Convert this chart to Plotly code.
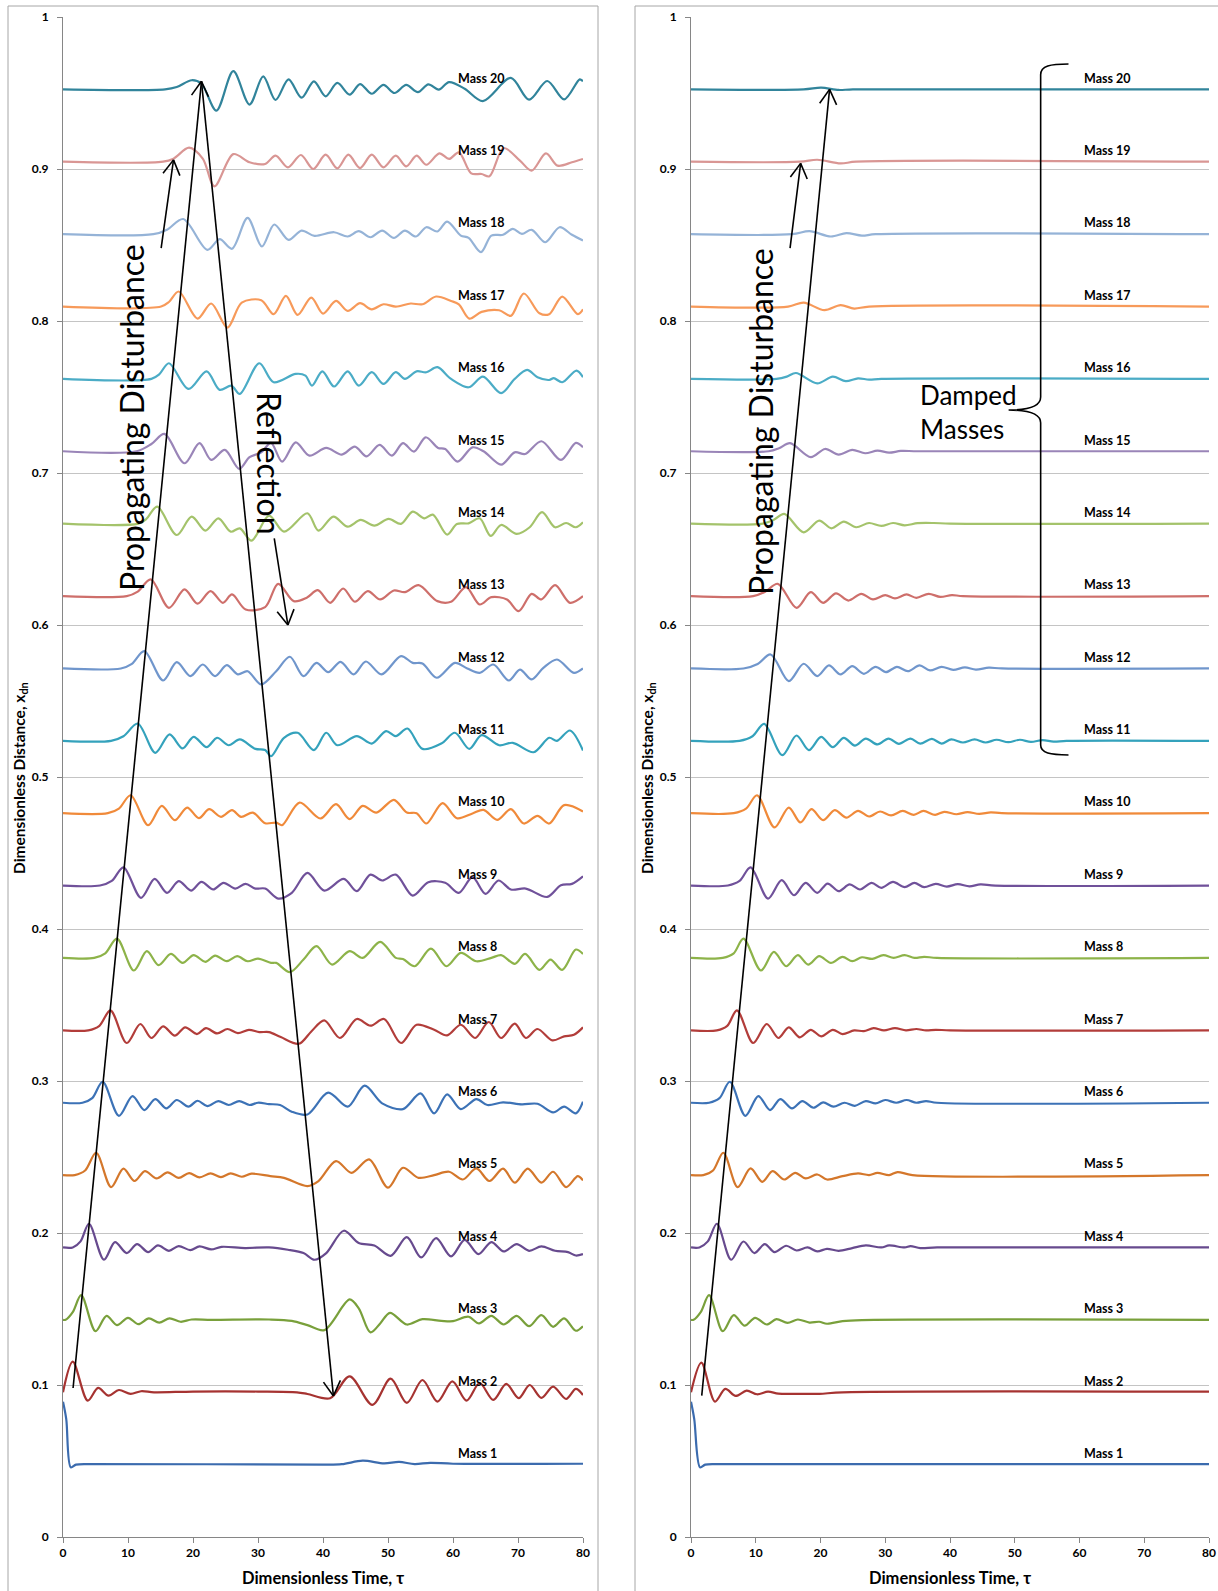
import math
import plotly.graph_objects as go

# ---------------- DATA ----------------
# equilibrium positions of the 20 masses (dimensionless)
equilibrium = [0.0476, 0.0952, 0.1429, 0.1905, 0.2381, 0.2857, 0.3333, 0.3810, 0.4286, 0.4762,
               0.5238, 0.5714, 0.6190, 0.6667, 0.7143, 0.7619, 0.8095, 0.8571, 0.9048, 0.9524]
mass_labels = ["Mass %d" % i for i in range(1, 21)]
colors = ["#3B6BAE", "#A63331", "#79A03B", "#674A8E", "#D4772B", "#3C72B6", "#B23D3A", "#8DB349",
          "#70519A", "#F08A3A", "#34A2BC", "#7096CC", "#CE6F6B", "#A4C36B", "#9A85B8", "#4BACC6",
          "#F79A5A", "#95B3D7", "#D99694", "#31849B"]

# Undamped chain: (time, deviation from equilibrium in thousandths) pairs
free_m1 = [0, 41.4, 0.5, 30, 1.2, -1.8, 2, 0, 4, 0.4, 40, 0, 42.9, 0.3, 46.1, 2.6, 49.4, 0.9, 51.7, 1.8, 54.1, 0.4, 56.5, 1.2, 60, 0.6, 80, 0.6]
free_m2 = [0, 0, 1.5, 20.2, 3.8, -5.5, 5.4, 2.9, 7, -2.2, 8.6, 1.5, 10.4, -1.1, 12, 0.7, 14, 0, 20, 0.5, 30, 0.5, 36, 0, 37.6, -1.1, 41.1, -3.9, 44.1, 10.5, 47.6, -8.3, 50.4, 9, 52.9, -7, 55.3, 8.1, 57.6, -6.1, 59.9, 7.2, 62.1, -5.5, 64.1, 6.1, 66.2, -5, 68.2, 5.5, 70.1, -3.9, 71.8, 4.8, 73.6, -3.7, 75.4, 3.7, 77.4, -4.4, 78.9, 2.2, 80, -1.8]
free_m3 = [0, 0, 0.4, 0, 1.5, 5, 2.8, 16.2, 5, -7.5, 6.7, 2.6, 8.3, -3.5, 10, 1.3, 11.6, -2.9, 13.2, 0.9, 14.8, -1.8, 16.4, 0.9, 18.1, -1.3, 19.8, 0.2, 22.8, 0, 31.7, 0.2, 35.2, -0.7, 37.6, -3.5, 40.2, -6.8, 44.1, 13.4, 45.5, 7.5, 47.3, -8.3, 48.8, -2.4, 50.3, 4.6, 52.9, -3.1, 55.3, 0.4, 58.2, -0.7, 60, -0.9, 62.4, 2, 64, -2.4, 65.9, 2.6, 67.8, -3.1, 69.8, 2.6, 71.7, -4.2, 73.6, 3.1, 75.4, -4.6, 77.1, 0.9, 78.9, -7.2, 80, -4.2]
free_m4 = [0, 0, 1.5, 0, 2.7, 4, 4, 15.6, 6.3, -8.1, 8, 3.5, 9.8, -3.7, 11.4, 2.2, 13.1, -3.1, 14.6, 1.3, 16.3, -2.2, 17.8, 0.9, 19.6, -1.8, 21, 0.7, 22.8, -1.3, 24.4, 0.4, 28, -0.4, 31.7, 0, 34.6, -1.5, 37, -3.7, 38.7, -8.1, 40.5, -3.7, 43.2, 11, 45.5, 2.9, 47.9, 1.3, 50.4, -5.5, 52.9, 6.8, 55.1, -6.6, 57.4, 6.1, 59.7, -5.9, 61.8, 5, 63.9, -4.4, 65.9, 3.5, 67.8, -2.6, 69.8, 2.2, 71.7, -2.2, 73.6, 0.7, 75.7, -2.2, 77.7, -3.1, 78.9, -5.3, 80, -4.4]
free_m5 = [0, 0, 1.8, 0, 3.4, 3, 5.1, 14.7, 7.4, -7.9, 9.3, 4.2, 11, -3.9, 12.6, 2.6, 14.4, -2.2, 16.1, 1.8, 17.8, -1.8, 19.4, 1.3, 21, -1.5, 22.7, 1.1, 24.3, -1.3, 25.8, 1.1, 27.5, -1.1, 29, 0.9, 31.9, -0.7, 34, -1.8, 37.6, -7.2, 39.3, -3.9, 42, 9.2, 44.4, 1.5, 47.1, 10.3, 50, -8.3, 52.3, 4.8, 54.7, -1.8, 57.1, 0, 59.4, 2.2, 61.5, -2.9, 63.6, 4.4, 65.6, -3.9, 67.7, 4.2, 69.5, -5, 71.5, 4.2, 73.6, -5, 75.4, 2.2, 77.4, -7.9, 79.2, -0.7, 80, -3.5]
free_m6 = [0, 0, 3, 0, 4.5, 3, 6.1, 13.8, 8.6, -8.6, 10.7, 4.4, 12.5, -4.8, 14.2, 2.4, 15.9, -3.7, 17.5, 1.8, 19.3, -2.6, 20.7, 1.3, 22.2, -2.2, 23.9, 1.1, 25.5, -1.5, 27.1, 1.1, 28.7, -1.5, 30, 0, 31.7, -0.9, 33.4, -1.5, 35.2, -5.9, 37.6, -7.7, 40.8, 6.6, 43.8, -2.6, 46.4, 11.2, 49.1, -0.4, 52.3, -4.2, 55, 6.1, 57.1, -7, 59.1, 5.5, 61.2, -4.2, 63.6, 2.4, 65.3, -1.5, 67.7, 0.2, 70.6, -1.1, 73, -0.7, 75.4, -6.4, 77.1, -2.6, 78.9, -7, 80, 0.7]
free_m7 = [0, 0, 3.9, 0, 5.6, 3, 7.3, 13.2, 9.8, -8.3, 11.9, 4.2, 13.6, -5, 15.4, 2.6, 17.2, -3.5, 18.8, 2, 20.6, -2.4, 22, 1.5, 23.7, -2, 25.3, 0.9, 26.9, -1.8, 28.6, 0.4, 30.2, -1.1, 31.7, -1.1, 33.5, -4.4, 36.3, -8.8, 38.2, -0.7, 40.2, 6.6, 42.6, -5, 45.2, 7.5, 47.3, 3.1, 49.4, 7.5, 52, -8.3, 54.4, 3.7, 57.1, 0.4, 59.1, -3.3, 61.2, 3.7, 63.4, -5, 65.5, 5.5, 67.4, -5, 69.5, 4.4, 71.2, -5, 73, 0.9, 75.3, -6.6, 77.1, -3.9, 78.6, -2.9, 80, 2]
free_m8 = [0, 0, 4.8, 0, 6.5, 3, 8.3, 12.7, 10.9, -8.3, 12.9, 4.4, 14.7, -4.8, 16.6, 2.6, 18.4, -3.3, 20.1, 1.8, 21.9, -2.6, 23.4, 1.5, 25.2, -2.2, 26.8, 1.1, 28.4, -2.2, 30, -0.5, 32, -3.3, 32.8, -3.3, 34.9, -9.4, 37, -1.1, 39, 7.7, 41.4, -4.4, 44.1, 4.4, 46.1, 0, 48.8, 10.5, 51.2, 0, 52.3, -0.7, 54.1, -5.5, 56.6, 6.1, 59, -5.5, 61.2, 3.3, 63.6, -2.2, 65.9, 0, 67.4, 1.8, 69.5, -3.9, 71.1, 2.6, 73.3, -7.9, 75, -1.1, 76.8, -7.9, 78.9, 5.5, 80, 2.6]
free_m9 = [0, 0, 5.7, 0, 7.5, 3, 9.3, 12, 12, -8.1, 14.1, 4.4, 16, -4.8, 17.8, 2.9, 19.7, -3.3, 21.3, 2.4, 23.1, -2.6, 24.7, 1.8, 26.5, -2, 28.1, 1.1, 29.6, -2, 31.1, -2, 33.1, -8.6, 35.2, -4.8, 37.6, 8.3, 40.2, -3.3, 43.2, 4.4, 45.2, -3.7, 47.3, 7.2, 49.1, 3.3, 51.2, 7.2, 53.8, -6.6, 56.2, 2.2, 58.8, 1.8, 60.9, -4.8, 63, 5.5, 65, -5.5, 67, 3.3, 68.9, -2.6, 71.2, -2, 74.5, -7.5, 76.6, 0.2, 78.3, 1.1, 80, 6.1]
free_m10 = [0, 0, 6.9, 0, 8.6, 3, 10.4, 11.8, 13.1, -7.9, 15.2, 4.8, 17.2, -4.6, 19.1, 3.7, 20.9, -3.3, 22.5, 2.6, 24.3, -2.4, 26, 2, 27.4, -2.4, 29.2, 0.4, 31.1, -6.6, 32.8, -6.2, 33.7, -7.9, 36.4, 7, 39.6, -3.5, 42, 5.9, 44.1, -3.9, 46.1, 4.8, 48.2, 0.4, 50.9, 8.8, 52.9, 0.4, 54.4, 0, 55.9, -6.8, 58.4, 6.6, 60.6, -3.3, 63, -0.2, 64.7, 2.2, 66.8, -4.4, 68.9, 2.6, 70.9, -6.8, 73, -1.8, 74.8, -6.8, 77.1, 5.3, 80, 1.1]
free_m11 = [0, 0, 7.4, 0, 9.3, 3, 11.5, 11.4, 14.2, -7.9, 16.4, 4.2, 18.4, -5, 20.1, 2.6, 22.1, -4.2, 23.7, 2, 25.5, -2.9, 27.2, 0.9, 29.6, -5.3, 31.1, -6, 32, -10.1, 34, 2, 36.1, 5.3, 38.6, -6.1, 40.5, 5.3, 42.2, -2.9, 45.2, 3.1, 47.5, -1.8, 49.7, 6.4, 51.2, 3.1, 53, 8.1, 55.3, -5.3, 58.2, -1.8, 60.3, 5.3, 62.5, -5.3, 64.4, 3.7, 67.1, -2.9, 69.2, -1.3, 72.4, -7.5, 74.8, 2, 76, 0, 78, 6.8, 80, -6.4]
free_m12 = [0, 0, 8.9, 0, 10.6, 3, 12.5, 11.4, 15.4, -7.9, 17.5, 4.2, 19.6, -5, 21.5, 2.6, 23.4, -5, 25.2, 2.2, 26.9, -3.9, 28.4, -1.8, 30.5, -10.5, 32.8, -1.8, 34.9, 7.7, 37, -5, 39, 3.7, 40.8, -2.4, 42.7, 4.4, 44.7, -3.9, 46.6, 4.6, 49, -3.9, 52, 8.1, 53.8, 3.7, 55.3, 3.3, 57.5, -6.1, 60.3, 3.7, 62.2, 0, 64.1, -2.9, 66.2, 2.6, 68.6, -7.9, 70.3, -0.7, 72.1, -7.2, 73.9, 0.4, 76, 5.9, 78.6, -2.9, 80, 0]
free_m13 = [0, 0, 9.8, 0, 11.5, 3, 13.5, 11, 16.3, -7.7, 18.7, 4.4, 20.7, -5, 22.7, 3.3, 24.6, -4.4, 26, 1.1, 28.1, -8.8, 31.1, -7.2, 33.1, 8.1, 35.5, -3.3, 37.5, -1, 39.2, 3.9, 41.1, -4.4, 43.1, 5, 44.9, -3.7, 46.9, 3.3, 48.8, -2.2, 50.9, 3.7, 52.6, 2.6, 54.7, 7.2, 57.6, -3.3, 59.7, -3.7, 62, 5.9, 64.1, -5.5, 65.9, -0.7, 68.3, -2.2, 70.1, -9.9, 72.1, 1.5, 73.6, -2.2, 75.7, 7.2, 78, -4.4, 80, 0]
free_m14 = [0, 0, 11.6, 0, 12.8, 3, 14.5, 11.2, 17.5, -7.5, 19.8, 4.6, 21.9, -4.6, 23.9, 3.5, 25.8, -5.3, 27.2, -3.1, 29, -11.2, 31.7, 5.3, 34, -5.3, 37.6, 6.8, 39.3, -4.6, 41.6, 4.6, 43.8, -2, 45.8, 2.4, 47.9, -1.3, 50.1, 3.1, 52, -0.2, 53.8, 7.9, 55.6, 3.5, 56.9, 5.9, 59.1, -7.2, 60.6, -0.2, 62.4, 0.2, 64.1, 3.5, 65.8, -8.1, 67.4, -0.9, 69.8, -6.8, 71.8, -2.4, 73.7, 7.5, 75.7, -2.4, 77.4, 0.4, 78.9, -2.4, 80, 0.9]
free_m15 = [0, 0, 11.3, 0, 13.6, 4.8, 15.6, 11.4, 18.7, -7.9, 21, 5.3, 22.8, -5.7, 24.9, 0.9, 27.1, -11.6, 28.7, -3.9, 30.5, -0.7, 32, 5.5, 33.7, -6.8, 35.8, 5.9, 37.9, -2.9, 40.5, 2.2, 42.9, -2.2, 44.9, 3.1, 46.7, -3.3, 48.7, 4.2, 50.6, -2.9, 52.3, 5.3, 54, -0.2, 55.8, 9.2, 57.7, 2.2, 58.8, 1.5, 60.7, -6.8, 63, 2.6, 64.7, 0, 67.4, -8.8, 69.5, -0.7, 71.1, -1.8, 73.6, 6.6, 76.6, -5.7, 78.9, 5.5, 80, 2.6]
free_m16 = [0, 0, 13.6, 0, 14.8, 3, 16.3, 10.3, 19.3, -6.6, 22.1, 5, 24.1, -7.2, 25.9, -4.4, 27.2, -9.9, 30.2, 10.3, 32.4, -2.2, 35.8, 3.3, 37.3, 2.2, 38.3, -4.4, 39.9, 5, 41.7, -5, 43.8, 5, 45.5, -4.4, 47.5, 4.4, 49.3, -3.3, 51.2, 4.4, 52.6, 0, 54.4, 5, 55.9, 4.4, 57.6, 7.7, 59.7, 0, 62.4, -5.5, 64.6, 1.5, 67.4, -9.4, 69.5, 0, 71.4, 5.9, 73, 1.1, 74.8, -0.7, 75.5, 0.5, 76.8, -2.2, 79, 5.5, 80, 1.1]
free_m17 = [0, 0, 15.1, 0, 16.3, 3, 17.8, 9.9, 20.7, -7.9, 22.8, 2, 25.3, -13.8, 27.5, 2.6, 30.5, 4.2, 32.4, -5, 34.3, 7, 36.1, -5.5, 38.2, 5.9, 40, -4.6, 42, 3.7, 43.8, -2.9, 45.7, 2.2, 47.5, -1.8, 49.3, 1.5, 51.2, 0, 53.5, 2, 55.3, 1.5, 57.4, 6.6, 59.7, 3.7, 60.9, 1.5, 62.5, -7.9, 64.4, -3.5, 67.1, -2.4, 68.9, -6.1, 70.9, 8.6, 73.3, -4.4, 74.8, -5, 76.8, 6.6, 79.2, -5, 80, -1.8]
free_m18 = [0, 0, 13.9, 0, 16, 3, 18.5, 10, 22.2, -10.3, 24.1, -3.3, 26, -9.6, 28.4, 10.7, 30.6, -8.1, 32.5, 6.4, 34.7, -3.7, 36.7, 2.4, 38.7, -1.1, 41.7, 1.3, 43.8, -1.5, 45.5, 2, 47.3, -2, 49.1, 2.4, 50.9, -2.4, 52.6, 2.4, 54.3, -1.5, 55.9, 4.6, 57.6, 1.8, 59.1, 8.3, 61.2, -0.9, 62.4, -2.4, 64.3, -11.8, 65.9, -0.9, 67.7, -0.4, 69.2, 3.5, 70.6, 0.2, 72.1, 2.9, 74.2, -5.3, 76.4, 4.6, 78.3, -0.4, 80, -4.2]
free_m19 = [0, 0, 15.4, 0, 17, 2, 19.4, 9.2, 21.5, 2, 23.3, -16.2, 26.2, 5, 28.7, -0.4, 31.1, -1.5, 32.7, 4, 34.6, -3.7, 36.6, 4.4, 38.5, -4.8, 40.4, 4.6, 42.2, -4.4, 43.9, 4.6, 45.7, -4.2, 47.5, 4.6, 49.3, -3.7, 51.2, 4, 52.8, -3.1, 54.4, 4, 55.9, -2, 57.9, 5.5, 59.4, 1.8, 60.9, 6.1, 62.8, -7.7, 64.4, -8.1, 65.6, -9.6, 67.8, 9, 70.3, 0.7, 72.1, -5.9, 74.3, 5.5, 76.1, -2.6, 78.3, -0.4, 80, 1.8]
free_m20 = [0, 0, 15.7, 0, 17.5, 1.5, 19.8, 6, 21.3, 3.7, 23.6, -14, 26.2, 12, 28.7, -10, 30.8, 8.5, 32.7, -7, 34.7, 6.6, 36.7, -5.5, 38.6, 5.3, 40.4, -4.6, 42.2, 4.2, 44.1, -3.5, 45.7, 3.5, 47.5, -2.9, 49.3, 3, 51, -2.4, 52.8, 2.9, 54.6, -1.8, 56.2, 3.3, 57.8, -0.2, 59.4, 4.8, 61.8, 0.4, 64.6, -7.7, 68.9, 7.5, 71.7, -6.8, 74.5, 5.5, 77.1, -6.6, 79.5, 6.6, 80, 5.3]

# Damped chain (masses 11-20 damped)
damp_m1 = [0, 41.4, 0.5, 30, 1.4, -1.8, 2.2, 0, 4, 0.4, 80, 0.4]
damp_m2 = [0, 0, 1.6, 19.5, 3.7, -6.1, 5.3, 2.2, 6.9, -2.4, 8.6, 1.1, 10.2, -1.3, 11.9, 0.4, 13.5, -0.9, 16.8, -1, 19.8, -1, 23.4, 0, 80, 0.4]
damp_m3 = [0, 0, 0.4, 0, 1.5, 5, 2.8, 16.2, 4.9, -7.5, 6.6, 3.1, 8.3, -3.9, 9.9, 1.3, 11.7, -3.1, 13.2, 0.4, 14.9, -2, 16.5, 0.2, 18.3, -1.8, 19.8, -1.3, 21, -2.6, 23.4, -0.9, 26.4, -0.2, 80, 0]
damp_m4 = [0, 0, 1.3, 0, 2.6, 4, 4, 15.6, 6.2, -8.1, 8.1, 3.9, 9.8, -3.7, 11.4, 2.2, 12.9, -3.1, 14.7, 1.1, 16.3, -2, 18, 0, 19.5, -2.6, 21, -0.9, 22.8, -2.2, 24.9, -0.4, 27, 1.3, 29.4, 0, 30.6, 1.3, 33, 0, 33.9, 0.9, 35.4, -0.4, 38, 0, 80, 0]
damp_m5 = [0, 0, 1.9, 0, 3.4, 3, 5, 14.7, 7.2, -7.9, 9.2, 4.4, 11, -4.4, 12.6, 2.6, 14.4, -2.9, 16.1, 1.5, 17.7, -2.2, 19.5, 0.4, 21, -2.9, 23.4, -0.7, 25.8, 1.1, 27.5, 0, 28.8, 1.5, 30.6, 0, 31.9, 2, 34.2, 0, 80, 0]
damp_m6 = [0, 0, 2.8, 0, 4.4, 3, 6, 13.8, 8.4, -8.6, 10.4, 4.4, 12.2, -4.8, 13.8, 2.4, 15.6, -3.7, 17.2, 1.1, 18.9, -3.3, 20.4, 0.2, 22, -2.6, 23.7, 0, 25.3, -2, 27, 1.1, 28.5, -0.4, 30, 1.8, 31.7, 0, 33.3, 1.8, 34.8, 0, 36.3, 1.1, 38, 0, 80, 0]
damp_m7 = [0, 0, 4, 0, 5.6, 3, 7.1, 13.2, 9.6, -8.3, 11.7, 4.2, 13.5, -5, 15.1, 2, 16.8, -4.6, 18.5, 0.4, 20.1, -3.9, 21.9, 0.4, 23.4, -2.4, 25.2, 0, 26.7, -0.5, 28.2, 1.5, 29.8, 0, 31.5, 1.5, 33.2, 0, 34.8, 0.9, 36.3, 0, 37.8, 0.4, 40, 0, 80, 0]
damp_m8 = [0, 0, 4.9, 0, 6.6, 3, 8.1, 12.7, 10.8, -8.3, 12.8, 3.9, 14.7, -5.5, 16.5, 1.8, 18.1, -4.4, 19.8, 1.1, 21.6, -3.3, 23.4, 0.7, 24.9, -2.2, 26.4, 0.4, 28, -0.7, 29.7, 1.8, 31.3, 0, 33, 1.8, 34.5, 0, 36, 0.7, 38, 0, 80, 0]
damp_m9 = [0, 0, 5.7, 0, 7.5, 3, 9.2, 12, 11.9, -8.6, 14, 3.5, 15.9, -6.4, 17.7, 1.8, 19.5, -4.8, 21.1, 1.3, 22.8, -3.7, 24.5, 0.7, 26.1, -2.6, 27.9, 1.8, 29.4, -1.5, 31.2, 2.4, 33, -1.1, 34.5, 1.8, 36, -1.1, 37.8, 1.1, 39.5, -0.7, 41.2, 0.9, 43, -0.5, 44.7, 0.7, 47, 0, 80, 0]
damp_m10 = [0, 0, 6.6, 0, 8.5, 3, 10.2, 11.8, 12.9, -9.4, 15.1, 3.7, 16.9, -6.1, 18.6, 2.6, 20.4, -4.6, 22.2, 2, 24, -2.9, 25.8, 1.5, 27.5, -2.2, 29.2, 1.1, 30.9, -1.5, 32.7, 1.5, 34.4, -1.1, 35.9, 1.5, 37.7, -1.1, 39.1, 0.9, 41, -0.7, 42.7, 0.7, 44.5, -0.5, 46.3, 0.5, 48, 0, 80, 0]
damp_m11 = [0, 0, 7.5, 0, 9.5, 3, 11.3, 11.2, 14.1, -9.4, 16.3, 3.5, 18.2, -6.1, 20.1, 2.6, 21.9, -4.2, 23.6, 2, 25.3, -3.1, 27, 1.5, 28.8, -2.4, 30.5, 1.5, 32.1, -2, 33.9, 1.5, 35.4, -1.8, 37.2, 1.3, 38.7, -1.8, 40.2, 0.9, 42, -1.1, 43.8, 0.9, 45.5, -1.1, 47.2, 0.7, 49, -0.9, 50.8, 0.7, 52.5, -0.7, 54.3, 0.5, 56, -0.5, 58, 0, 80, 0]
damp_m12 = [0, 0, 8.1, 0, 10.3, 3, 12.3, 9.2, 15.1, -8.3, 17.4, 3.1, 19.5, -5, 21.3, 2, 23.1, -3.9, 24.9, 1.5, 26.7, -3.5, 28.5, 1.1, 30.1, -2.4, 31.8, 1.1, 33.5, -1.8, 35.3, 2, 36.9, -1.3, 38.7, 1.1, 40.5, -0.9, 42.3, 0.7, 44, -0.7, 46, 0.5, 48, 0, 80, 0]
damp_m13 = [0, 0, 9.6, 0, 11.5, 3, 13.4, 8.1, 16.3, -7.7, 18.5, 2.6, 20.4, -4.4, 22.4, 1.8, 24.3, -2.9, 26.3, 1.5, 28.1, -2.2, 30, 0.7, 31.5, -1.5, 33.3, 1.1, 34.8, -1.1, 36.7, 1.5, 38.5, -0.5, 40.3, 0.7, 42, 0, 80, 0]
damp_m14 = [0, 0, 11.1, 0, 12.8, 2.5, 14.4, 6.4, 17.4, -5.7, 19.8, 2, 21.7, -3.1, 23.6, 1.3, 25.5, -2.4, 27.5, 0.4, 29.4, -1.5, 31.2, 0.4, 33, -1.1, 35, 0.3, 37.5, 0.4, 40, 0, 80, 0]
damp_m15 = [0, 0, 12, 0, 13.6, 2, 15.3, 5.3, 18.5, -3.9, 20.7, 1.5, 22.8, -2.2, 24.9, 0.9, 26.9, -1.3, 28.8, 0.4, 30.6, -0.9, 32.4, 0.2, 35, 0, 80, 0]
damp_m16 = [0, 0, 13.2, 0, 14.8, 1.5, 16.2, 3.9, 19.5, -2.9, 21.9, 1.5, 23.9, -1.5, 25.8, 0.4, 27.5, -0.5, 29.4, 0, 80, 0]
damp_m17 = [0, 0, 15, 0, 17.4, 2.6, 20.6, -2.4, 23.1, 0.9, 25.2, -1.3, 27.5, 0, 80, 0]
damp_m18 = [0, 0, 15.6, 0, 18.3, 2, 21.6, -1.5, 24, 0.7, 26.4, -0.9, 28.5, 0, 80, 0]
damp_m19 = [0, 0, 16.8, 0, 19.5, 1.3, 23.1, -1.1, 25.5, 0, 80, 0]
damp_m20 = [0, 0, 17.4, 0, 20.1, 1.1, 22.8, -0.4, 25, 0, 80, 0]

free_series = [free_m1, free_m2, free_m3, free_m4, free_m5, free_m6, free_m7, free_m8, free_m9, free_m10,
               free_m11, free_m12, free_m13, free_m14, free_m15, free_m16, free_m17, free_m18, free_m19, free_m20]
damp_series = [damp_m1, damp_m2, damp_m3, damp_m4, damp_m5, damp_m6, damp_m7, damp_m8, damp_m9, damp_m10,
               damp_m11, damp_m12, damp_m13, damp_m14, damp_m15, damp_m16, damp_m17, damp_m18, damp_m19, damp_m20]

x_ticks = [0, 10, 20, 30, 40, 50, 60, 70, 80]
y_ticks = [0, 0.1, 0.2, 0.3, 0.4, 0.5, 0.6, 0.7, 0.8, 0.9, 1]
label_time = 60.4          # where the "Mass n" labels start
label_offset = 0.0074      # label height above the line

# ---------------- LAYOUT GEOMETRY (pixels) ----------------
W, H = 1218, 1591
PLOT_TOP, PLOT_BOTTOM = 17, 1537
PANELS = {"x": (63, 583), "x2": (691, 1209)}
FONT = "Lato"

fig = go.Figure()


def add_panel(series, xref, yref):
    for i, pairs in enumerate(series):
        t = pairs[0::2]
        y = [equilibrium[i] + d / 1000.0 for d in pairs[1::2]]
        fig.add_trace(go.Scatter(x=t, y=y, mode="lines", xaxis=xref, yaxis=yref,
                                 line=dict(color=colors[i], width=2.2, shape="spline", smoothing=0.9),
                                 hoverinfo="skip", showlegend=False))
        fig.add_annotation(x=label_time, y=equilibrium[i] + label_offset, xref=xref, yref=yref,
                           text="<b>%s</b>" % mass_labels[i], showarrow=False, xanchor="left",
                           yanchor="middle", font=dict(family=FONT, size=12.5, color="#000"))


add_panel(free_series, "x", "y")
add_panel(damp_series, "x2", "y2")

axis_common = dict(showline=True, linecolor="#868686", linewidth=1, ticks="outside", ticklen=5,
                   tickcolor="#868686", zeroline=False, automargin=False,
                   tickfont=dict(family=FONT, size=12, color="#000", weight="bold"))
x0L, x1L = PANELS["x"]
x0R, x1R = PANELS["x2"]
ydom = [(H - PLOT_BOTTOM) / H, (H - PLOT_TOP) / H]
fig.update_layout(
    template="none",
    width=W, height=H, margin=dict(l=0, r=0, t=0, b=0, pad=0, autoexpand=False),
    paper_bgcolor="white", plot_bgcolor="white", showlegend=False,
    xaxis=dict(domain=[x0L / W, x1L / W], range=[0, 80], tickvals=x_ticks, showgrid=False, anchor="y", **axis_common),
    yaxis=dict(domain=ydom, range=[0, 1], tickvals=y_ticks, showgrid=True, gridcolor="#C4C4C4", gridwidth=1,
               anchor="x", ticklabelstandoff=6, **axis_common),
    xaxis2=dict(domain=[x0R / W, x1R / W], range=[0, 80], tickvals=x_ticks, showgrid=False, anchor="y2", **axis_common),
    yaxis2=dict(domain=ydom, range=[0, 1], tickvals=y_ticks, showgrid=True, gridcolor="#C4C4C4", gridwidth=1,
                anchor="x2", ticklabelstandoff=6, **axis_common),
)

# chart-area borders
fig.add_shape(type="rect", xref="paper", yref="paper", x0=8 / W, x1=598 / W, y0=-0.02, y1=(H - 6) / H,
              line=dict(color="#A6A6A6", width=1))
fig.add_shape(type="rect", xref="paper", yref="paper", x0=635 / W, x1=1.02, y0=-0.02, y1=(H - 6) / H,
              line=dict(color="#A6A6A6", width=1))


# axis titles
def ptext(px, py, text, size, angle=0, bold=True):
    t = "<b>%s</b>" % text if bold else text
    fig.add_annotation(x=px / W, y=(H - py) / H, xref="paper", yref="paper", text=t, showarrow=False,
                       textangle=angle, xanchor="center", yanchor="middle",
                       font=dict(family=FONT, size=size, color="#000"))


ptext(323, 1578, "Dimensionless Time, τ", 16.5)
ptext(950, 1578, "Dimensionless Time, τ", 16.5)
ptext(20, 778, "Dimensionless Distance, x<sub>dn</sub>", 15.5, -90)
ptext(648, 778, "Dimensionless Distance, x<sub>dn</sub>", 15.5, -90)

# big annotation texts
ptext(131, 418, "Propagating Disturbance", 32, -90, bold=False)
ptext(270, 463, "Reflection", 32, 90, bold=False)
ptext(760, 422, "Propagating Disturbance", 32, -90, bold=False)
fig.add_annotation(x=918 / W, y=(H - 412) / H, xref="paper", yref="paper", text="Damped<br>Masses",
                   showarrow=False, xanchor="left", yanchor="middle", align="left",
                   font=dict(family=FONT, size=26, color="#000"))


# arrows (annotation geometry, data coordinates of each panel)
def to_px(xref, t, v):
    a, b = PANELS[xref]
    return a + t * (b - a) / 80.0, PLOT_BOTTOM - v * (PLOT_BOTTOM - PLOT_TOP)


def to_data(xref, X, Y):
    a, b = PANELS[xref]
    return (X - a) * 80.0 / (b - a), (PLOT_BOTTOM - Y) / (PLOT_BOTTOM - PLOT_TOP)


def seg(xref, yref, p, q):
    fig.add_shape(type="line", xref=xref, yref=yref, x0=p[0], y0=p[1], x1=q[0], y1=q[1],
                  line=dict(color="black", width=1.6))


def head(xref, yref, tail, tip, length=17, ang=30):
    tx, ty = to_px(xref, *tail)
    hx, hy = to_px(xref, *tip)
    dx, dy = tx - hx, ty - hy
    n = math.hypot(dx, dy)
    ux, uy = dx / n, dy / n
    for s in (-1, 1):
        r = math.radians(ang * s)
        wx = hx + length * (ux * math.cos(r) - uy * math.sin(r))
        wy = hy + length * (ux * math.sin(r) + uy * math.cos(r))
        seg(xref, yref, tip, to_data(xref, wx, wy))


# left panel
apex_L = (21.3, 0.9577)
seg("x", "y", (1.55, 0.098), apex_L); head("x", "y", (1.55, 0.098), apex_L)
seg("x", "y", apex_L, (41.6, 0.0928)); head("x", "y", apex_L, (41.6, 0.0928))
seg("x", "y", (15.1, 0.848), (17.0, 0.906)); head("x", "y", (15.1, 0.848), (17.0, 0.906))
seg("x", "y", (32.5, 0.657), (34.6, 0.600)); head("x", "y", (32.5, 0.657), (34.6, 0.600))
# right panel
seg("x2", "y2", (1.66, 0.093), (21.4, 0.9524)); head("x2", "y2", (1.66, 0.093), (21.4, 0.9524))
seg("x2", "y2", (15.3, 0.848), (16.93, 0.9037)); head("x2", "y2", (15.3, 0.848), (16.93, 0.9037))

# curly brace for the damped masses
brace = ("M 58.3,0.9691 C 55.5,0.9691 54.0,0.9680 54.0,0.9620 L 54.0,0.7500 "
         "C 54.0,0.7440 52.0,0.7414 49.05,0.7414 C 52.0,0.7414 54.0,0.7390 54.0,0.7330 "
         "L 54.0,0.5210 C 54.0,0.5156 55.5,0.5145 58.3,0.5145")
fig.add_shape(type="path", xref="x2", yref="y2", path=brace, line=dict(color="black", width=1.6))

fig.write_html("out.html", config={"displayModeBar": False},
               post_script="document.body.style.margin='0';document.body.style.overflow='hidden';")
